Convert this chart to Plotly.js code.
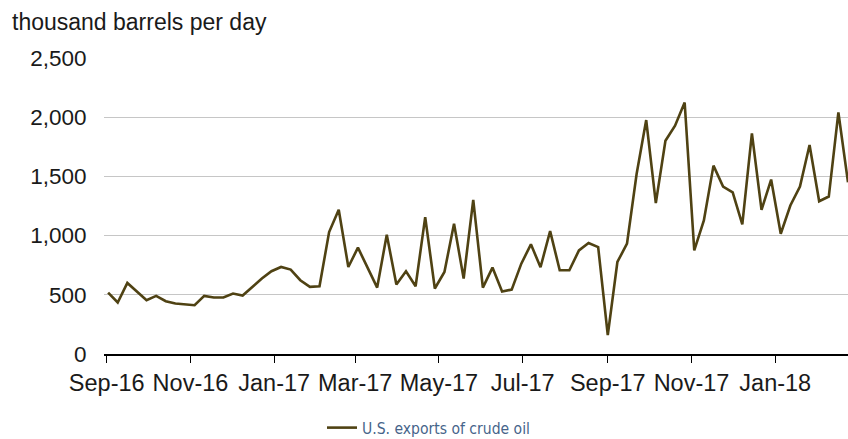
<!DOCTYPE html>
<html>
<head>
<meta charset="utf-8">
<script src="https://cdn.plot.ly/plotly-3.0.1.min.js"></script>
<style>html,body{margin:0;padding:0;background:#fff;}#chart{width:848px;height:439px;}</style>
</head>
<body>
<div id="chart"></div>
<script>
const weeks = [
  '2016-09-02','2016-09-09','2016-09-16','2016-09-23','2016-09-30','2016-10-07','2016-10-14','2016-10-21','2016-10-28',
  '2016-11-04','2016-11-11','2016-11-18','2016-11-25','2016-12-02','2016-12-09','2016-12-16','2016-12-23','2016-12-30',
  '2017-01-06','2017-01-13','2017-01-20','2017-01-27','2017-02-03','2017-02-10','2017-02-17','2017-02-24',
  '2017-03-03','2017-03-10','2017-03-17','2017-03-24','2017-03-31','2017-04-07','2017-04-14','2017-04-21','2017-04-28',
  '2017-05-05','2017-05-12','2017-05-19','2017-05-26','2017-06-02','2017-06-09','2017-06-16','2017-06-23','2017-06-30',
  '2017-07-07','2017-07-14','2017-07-21','2017-07-28','2017-08-04','2017-08-11','2017-08-18','2017-08-25',
  '2017-09-01','2017-09-08','2017-09-15','2017-09-22','2017-09-29','2017-10-06','2017-10-13','2017-10-20','2017-10-27',
  '2017-11-03','2017-11-10','2017-11-17','2017-11-24','2017-12-01','2017-12-08','2017-12-15','2017-12-22','2017-12-29',
  '2018-01-05','2018-01-12','2018-01-19','2018-01-26','2018-02-02','2018-02-09','2018-02-16','2018-02-23'
];
const crudeExports = [
  519,435,600,530,455,491,446,427,418,
  412,491,477,477,511,494,567,637,699,
  735,713,623,567,572,1030,1218,735,
  898,730,561,1007,587,699,572,1156,553,
  693,1100,637,1302,561,730,527,544,763,
  926,733,1038,707,707,875,937,903,
  160,777,932,1520,1976,1274,1801,1928,2124,
  875,1128,1591,1414,1366,1094,1863,1218,1473,
  1016,1254,1414,1765,1290,1330,2040,1450
];
const seriesName = 'U.S. exports of crude oil';
const yTickVals = [0,500,1000,1500,2000,2500];
const yTickText = ['0','500','1,000','1,500','2,000','2,500'];
const unitLabel = 'thousand barrels per day';

const font = 'Liberation Sans, Arial, sans-serif';
const narrow = 'Liberation Sans Narrow, DejaVu Sans Condensed, Arial Narrow, Liberation Sans, sans-serif';
const textColor = '#1a1a1a';
const trace = {
  x: weeks, y: crudeExports, type: 'scatter', mode: 'lines', name: seriesName,
  line: {color: '#4f4213', width: 2.6}, showlegend: true
};
const layout = {
  width: 848, height: 439,
  margin: {l: 104, r: 0, t: 58, b: 85},
  paper_bgcolor: '#fff', plot_bgcolor: '#fff',
  font: {family: font, size: 22, color: textColor},
  title: {text: unitLabel, x: 12/848, xanchor: 'left', xref: 'container', y: 1 - 22/439, yref: 'container', yanchor: 'middle', font: {family: font, size: 23, color: textColor}},
  xaxis: {
    type: 'date', range: ['2016-08-30', '2018-02-23'],
    tick0: '2016-09-01', dtick: 'M2', tickformat: '%b-%y',
    ticks: 'outside', ticklen: 7, tickcolor: '#000', tickwidth: 1,
    showline: true, linecolor: '#000', linewidth: 1.5,
    showgrid: false, zeroline: false,
    tickfont: {family: font, size: 23.5, color: textColor}
  },
  yaxis: {
    range: [0, 2500], tickvals: yTickVals, ticktext: yTickText,
    showgrid: true, gridcolor: '#c6c6c6', gridwidth: 1,
    zeroline: false, showline: false,
    ticks: 'outside', ticklen: 12, tickcolor: 'rgba(0,0,0,0)',
    tickfont: {family: font, size: 22.5, color: textColor}
  },
  showlegend: true,
  legend: {
    orientation: 'h', xref: 'container', yref: 'container',
    x: 322/848, xanchor: 'left', y: 1 - 428/439, yanchor: 'middle',
    font: {family: narrow, size: 20, color: '#46648a'},
    itemwidth: 30, bgcolor: 'rgba(0,0,0,0)'
  }
};
const targetLegendWidth = 168;
Plotly.newPlot('chart', [trace], layout, {displayModeBar: false, staticPlot: true}).then(function (gd) {
  const t = gd.querySelector('.legendtext');
  if (!t) return;
  const w = t.getComputedTextLength();
  if (w > targetLegendWidth + 6) {
    const size = Math.max(14, 20 * targetLegendWidth / w);
    return Plotly.relayout(gd, {'legend.font.size': size});
  }
});
</script>
</body>
</html>
